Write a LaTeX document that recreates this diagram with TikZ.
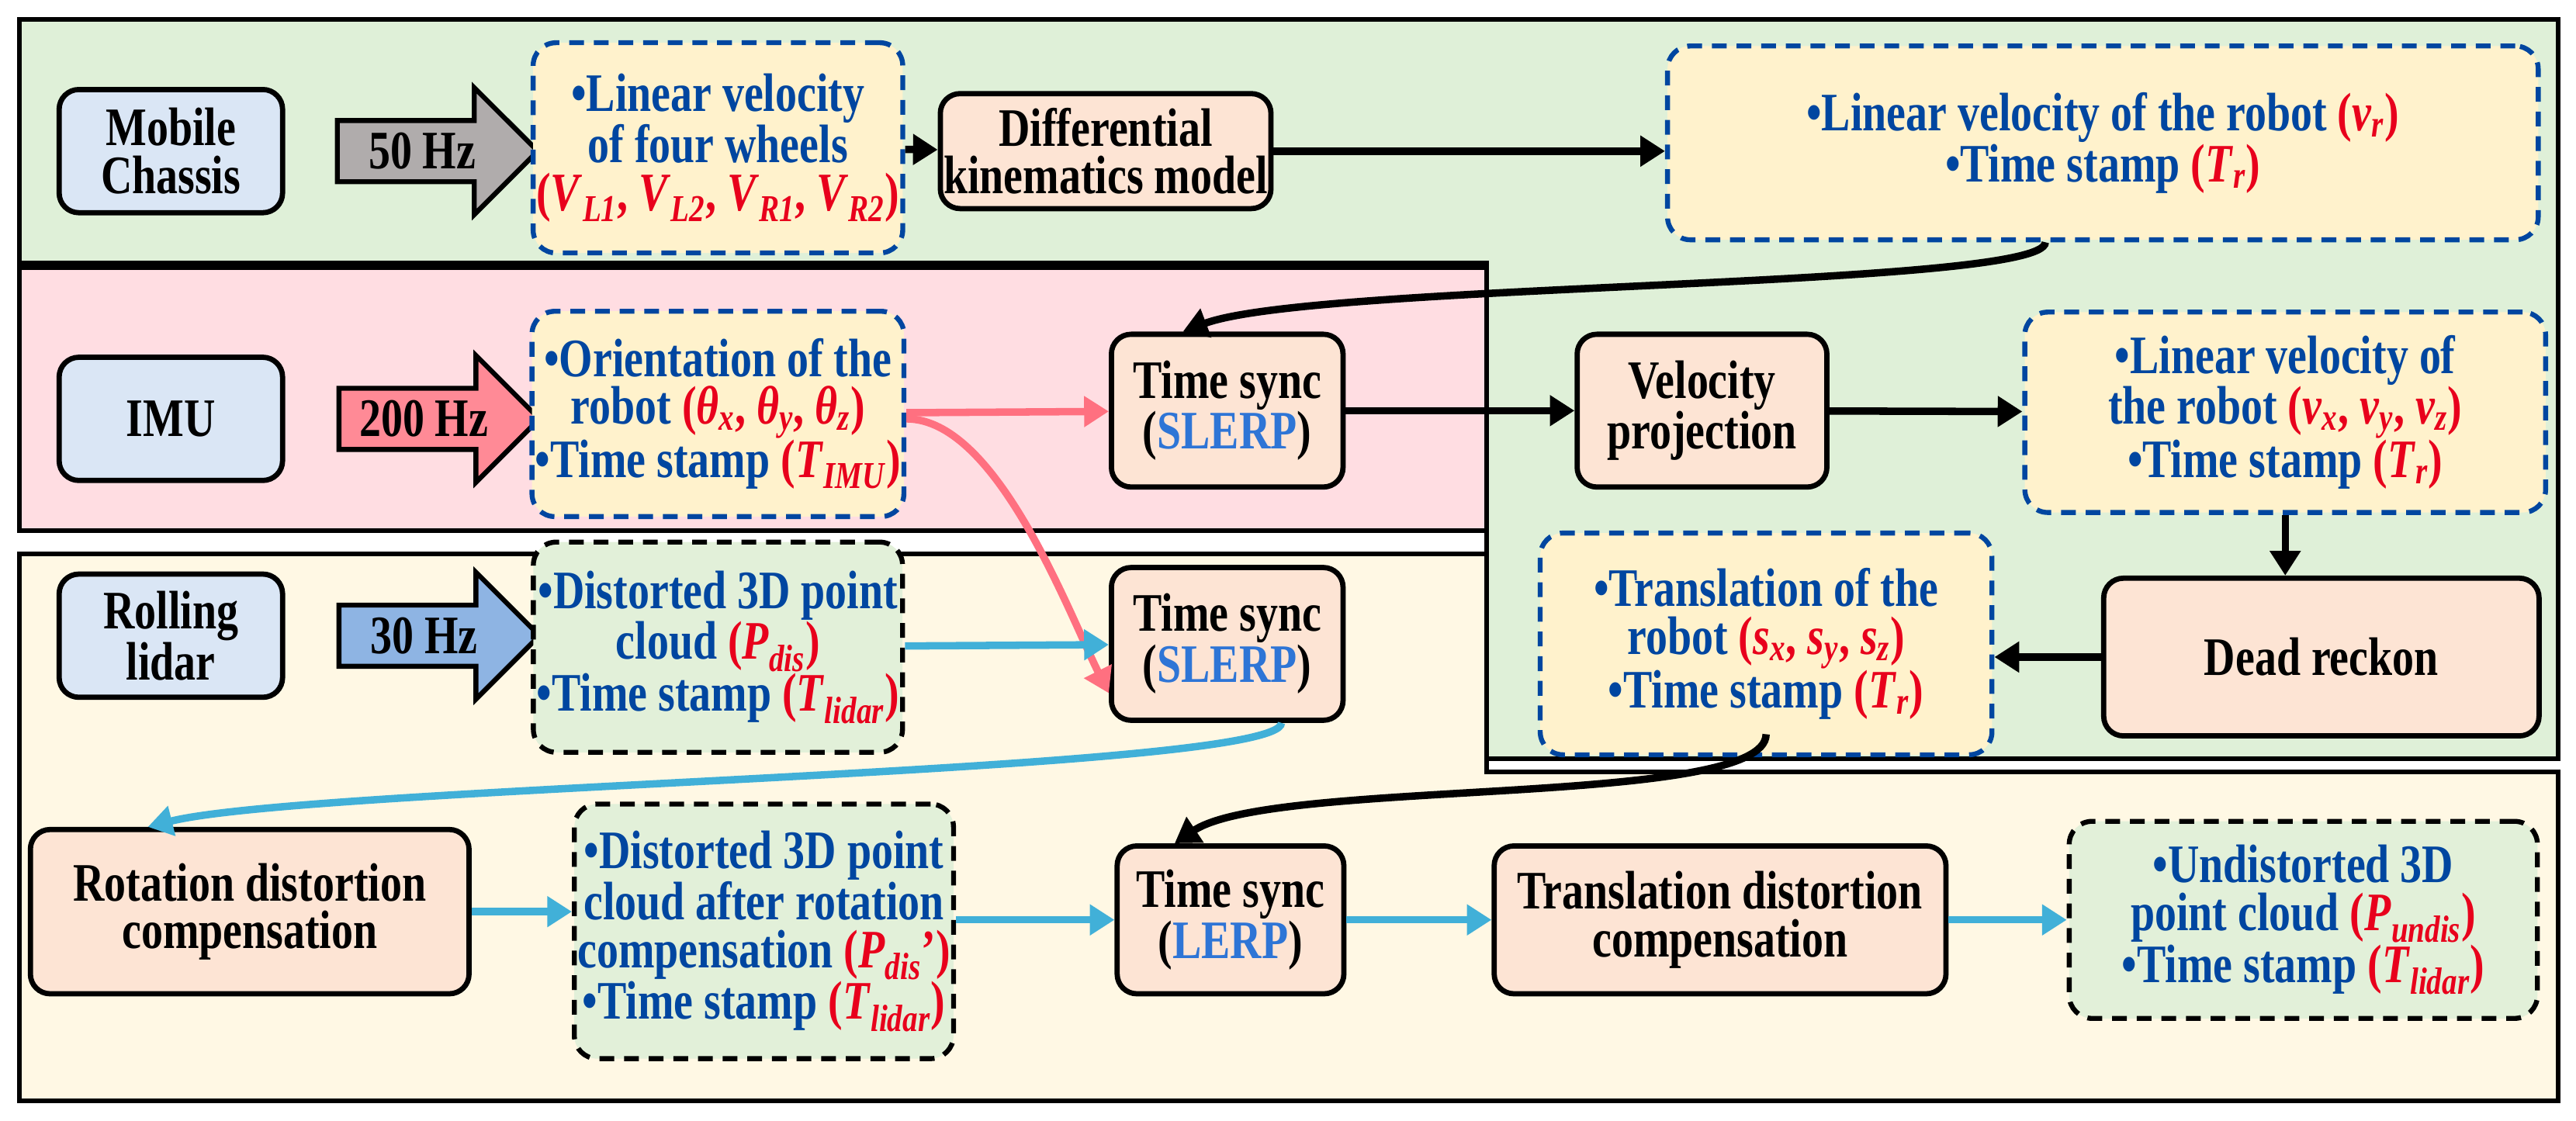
\documentclass[tikz,border=0pt]{standalone}
\usepackage{fontspec}
\setmainfont{Liberation Serif}[FakeStretch=0.8]
\usetikzlibrary{shapes.arrows,arrows.meta}
\definecolor{panG}{RGB}{223,240,216}
\definecolor{panP}{RGB}{255,221,226}
\definecolor{panY}{RGB}{255,248,228}
\definecolor{nBlue}{RGB}{218,230,245}
\definecolor{nOrg}{RGB}{253,228,212}
\definecolor{nCream}{RGB}{255,242,204}
\definecolor{nGreen}{RGB}{226,240,217}
\definecolor{tBlue}{RGB}{0,70,160}
\definecolor{tRed}{RGB}{232,0,28}
\definecolor{sBlue}{RGB}{46,117,214}
\definecolor{aGray}{RGB}{176,172,172}
\definecolor{aPink}{RGB}{255,138,150}
\definecolor{aBlue}{RGB}{142,180,227}
\definecolor{lCyan}{RGB}{65,176,216}
\definecolor{lPink}{RGB}{255,112,128}
\newcommand\vsub[2]{\textit{#1}\textsubscript{\textit{#2}}}
\newcommand\rd[1]{{\color{tRed}#1}}
\begin{document}
\begin{tikzpicture}[x=1pt,y=-1pt,
	every node/.style={font=\fontsize{33}{29}\selectfont\bfseries},
	panel/.style={draw,line width=2.8pt},
	src/.style={draw,line width=3.2pt,rounded corners=12pt,fill=nBlue,minimum width=136pt,minimum height=75pt,align=center},
	proc/.style={draw,line width=3.2pt,rounded corners=12pt,fill=nOrg,align=center,inner sep=2pt},
	data/.style={draw=tBlue,line width=3pt,dash pattern=on 9pt off 6pt,rounded corners=14pt,fill=nCream,align=center,text=tBlue,inner sep=2pt},
	pts/.style={data,draw=black},
	hz/.style={single arrow,draw,line width=3pt,minimum height=122pt,single arrow head extend=20pt,inner ysep=6pt,inner xsep=1pt},
	flow/.style={-{Triangle[length=15pt,width=18pt]},line width=4.5pt},
	cflow/.style={flow,lCyan},
	pflow/.style={flow,lPink}]
	\useasboundingbox (0,0) rectangle (1568,682);
	% panels
	\draw[panel,fill=panG] (12,12) -- (1557,12) -- (1557,462) -- (905,462) -- (905,160) -- (12,160) -- cycle;
	\draw[panel,fill=panP] (12,163) rectangle (905,323);
	\draw[panel,fill=panY] (12,337) -- (905,337) -- (905,470) -- (1557,470) -- (1557,670) -- (12,670) -- cycle;
	% sources
	\node[src] (chassis) at (104,92) {Mobile\\Chassis};
	\node[src] (imu) at (104,255) {IMU};
	\node[src] (lidar) at (104,387) {Rolling\\lidar};
	\node[hz,fill=aGray] (hz50) at (257,92) {50 Hz};
	\node[hz,fill=aPink] (hz200) at (258,255) {200 Hz};
	\node[hz,fill=aBlue] (hz30) at (258,387) {30 Hz};
	% data boxes
	\node[data,minimum width=215pt,minimum height=128pt] (wheels) at (437,90)
		{•Linear velocity\\of four wheels\\\rd{(\vsub{V}{L1}, \vsub{V}{L2}, \vsub{V}{R1}, \vsub{V}{R2})}};
	\node[data,minimum width=530pt,minimum height=118pt] (velr) at (1280,87)
		{•Linear velocity of the robot \rd{(\vsub{v}{r})}\\•Time stamp \rd{(\vsub{T}{r})}};
	\node[data,minimum width=215pt,minimum height=125pt] (orient) at (437,252)
		{•Orientation of the\\robot \rd{(\vsub{θ}{x}, \vsub{θ}{y}, \vsub{θ}{z})}\\•Time stamp \rd{(\vsub{T}{IMU})}};
	\node[data,minimum width=317pt,minimum height=122pt] (velxyz) at (1391,251)
		{•Linear velocity of\\the robot \rd{(\vsub{v}{x}, \vsub{v}{y}, \vsub{v}{z})}\\•Time stamp \rd{(\vsub{T}{r})}};
	\node[data,minimum width=275pt,minimum height=135pt] (transl) at (1075,392)
		{•Translation of the\\robot \rd{(\vsub{s}{x}, \vsub{s}{y}, \vsub{s}{z})}\\•Time stamp \rd{(\vsub{T}{r})}};
	\node[pts,fill=nGreen,minimum width=215pt,minimum height=128pt] (cloud) at (437,394)
		{•Distorted 3D point\\cloud \rd{(\vsub{P}{dis})}\\•Time stamp \rd{(\vsub{T}{lidar})}};
	\node[pts,fill=nGreen,minimum width=220pt,minimum height=155pt] (rotcloud) at (465,567)
		{•Distorted 3D point\\cloud after rotation\\compensation \rd{(\vsub{P}{dis}’)}\\•Time stamp \rd{(\vsub{T}{lidar})}};
	\node[pts,fill=nGreen,minimum width=285pt,minimum height=120pt] (undis) at (1402,560)
		{•Undistorted 3D\\point cloud \rd{(\vsub{P}{undis})}\\•Time stamp \rd{(\vsub{T}{lidar})}};
	% processing
	\node[proc,minimum width=173pt,minimum height=70pt] (diff) at (673,92) {Differential\\kinematics model};
	\node[proc,minimum width=141pt,minimum height=93pt] (syncA) at (747,250) {Time sync\\(\textcolor{sBlue}{SLERP})};
	\node[proc,minimum width=152pt,minimum height=93pt] (proj) at (1036,250) {Velocity\\projection};
	\node[proc,minimum width=265pt,minimum height=96pt] (dead) at (1413,400) {Dead reckon};
	\node[proc,minimum width=141pt,minimum height=93pt] (syncB) at (747,392) {Time sync\\(\textcolor{sBlue}{SLERP})};
	\node[proc,minimum width=267pt,minimum height=100pt] (rot) at (152,555) {Rotation distortion\\compensation};
	\node[proc,minimum width=138pt,minimum height=90pt] (syncC) at (749,560) {Time sync\\(\textcolor{sBlue}{LERP})};
	\node[proc,minimum width=275pt,minimum height=90pt] (trans) at (1047,560) {Translation distortion\\compensation};
	% connectors
	\draw[flow] (wheels) -- (diff);
	\draw[flow] (diff) -- (velr.west|-diff);
	\draw[flow] ([xshift=-35pt]velr.south) .. controls +(0,28) and +(80,-30) .. ([xshift=-27pt]syncA.north);
	\draw[flow] (syncA) -- (proj);
	\draw[flow] (proj) -- (velxyz);
	\draw[flow] (velxyz.south) -- (dead.north-|velxyz.south);
	\draw[flow] (dead) -- (transl.east|-dead);
	\draw[flow] ([yshift=14pt]transl.south) .. controls +(0,45) and +(60,-40) .. ([xshift=-34pt]syncC.north);
	\draw[pflow] (orient) -- (syncA);
	\draw[pflow] ([yshift=-3pt]orient.east) .. controls +(55,0) and +(-25,-50) .. ([yshift=-30pt]syncB.west);
	\draw[cflow] (cloud) -- (syncB);
	\draw[cflow] ([xshift=33pt]syncB.south) .. controls +(0,30) and +(100,-25) .. ([xshift=-62pt]rot.north);
	\draw[cflow] (rot) -- (rotcloud.west|-rot);
	\draw[cflow] (rotcloud.east|-syncC) -- (syncC);
	\draw[cflow] (syncC) -- (trans);
	\draw[cflow] (trans) -- (undis);
\end{tikzpicture}
\end{document}
